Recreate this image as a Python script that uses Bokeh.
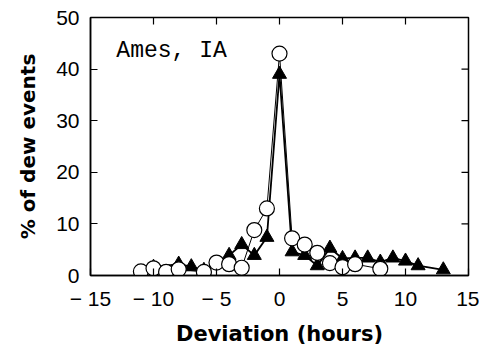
import math
from bokeh.plotting import figure
from bokeh.models import FixedTicker, Label, Range1d
from bokeh.embed import file_html
from bokeh.resources import INLINE

# Data
x_circles = [-11, -10, -9, -8, -6, -5, -4, -3, -2, -1, 0, 1, 2, 3, 4, 5, 6, 8]
y_circles = [0.8, 1.4, 0.7, 1.2, 0.7, 2.5, 2.2, 1.5, 8.8, 13.0, 43.0, 7.2, 6.0, 4.4, 2.4, 1.6, 2.2, 1.3]

x_triangles = [-10, -8, -7, -6, -5, -4, -3, -2, -1, 0, 1, 2, 3, 4, 5, 6, 7, 8, 9, 10, 11, 13]
y_triangles = [1.6, 2.2, 1.7, 1.0, 2.3, 3.9, 6.0, 3.9, 7.4, 39.0, 4.6, 3.9, 1.9, 5.3, 3.3, 3.4, 3.4, 2.6, 3.4, 2.8, 1.9, 1.1]

x_ticks = [-15, -10, -5, 0, 5, 10, 15]
x_tick_labels = ["\u2212 15", "\u2212 10", "\u2212 5", "0", "5", "10", "15"]
y_ticks = [0, 10, 20, 30, 40, 50]
y_tick_labels = ["0", "10", "20", "30", "40", "50"]

site_label = "Ames, IA"

x_min, x_max = x_ticks[0], x_ticks[-1]
y_min, y_max = y_ticks[0], y_ticks[-1]

p = figure(width=479, height=348, output_backend="svg", toolbar_location=None,
           x_range=Range1d(x_min, x_max), y_range=Range1d(y_min, y_max),
           min_border_left=90, min_border_right=11, min_border_top=17, min_border_bottom=71)
p.xgrid.visible = False
p.ygrid.visible = False
p.outline_line_color = "black"
p.outline_line_width = 1.5
p.background_fill_color = "white"
p.border_fill_color = "white"

tick_font = "Liberation Sans"
for ax, ticks, labels in ((p.xaxis[0], x_ticks, x_tick_labels), (p.yaxis[0], y_ticks, y_tick_labels)):
    ax.ticker = FixedTicker(ticks=ticks)
    ax.major_label_overrides = {t: l for t, l in zip(ticks, labels)}
    ax.major_tick_in = 7
    ax.major_tick_out = 0
    ax.minor_tick_in = 0
    ax.minor_tick_out = 0
    ax.axis_line_color = "black"
    ax.axis_line_width = 1.5
    ax.major_tick_line_width = 1.2
    ax.major_label_text_font = tick_font
    ax.major_label_text_font_size = "21px"
    ax.major_label_text_color = "black"
    ax.axis_label_text_font = "DejaVu Sans"
    ax.axis_label_text_font_style = "bold"
    ax.axis_label_text_color = "black"

p.xaxis.axis_label = "Deviation (hours)"
p.yaxis.axis_label = "% of dew events"
p.xaxis.axis_label_text_font_size = "21px"
p.yaxis.axis_label_text_font_size = "20px"
p.xaxis.major_label_standoff = 11
p.xaxis.axis_label_standoff = 9
p.yaxis.major_label_standoff = 11
p.yaxis.axis_label_standoff = 13
p.yaxis.major_label_orientation = "horizontal"

# mirrored inward ticks on top and right edges (drawn as short screen-length rays)
top_ticks = [t for t in x_ticks if x_min < t < x_max]
right_ticks = [t for t in y_ticks if y_min < t < y_max]
p.ray(x=top_ticks, y=[y_max] * len(top_ticks), length=7, length_units="screen",
      angle=-math.pi / 2, line_color="black", line_width=1.2)
p.ray(x=[x_max] * len(right_ticks), y=right_ticks, length=7, length_units="screen",
      angle=math.pi, line_color="black", line_width=1.2)

p.line(x_circles, y_circles, line_color="black", line_width=1)
p.line(x_triangles, y_triangles, line_color="black", line_width=1.8)
p.scatter(x_triangles, y_triangles, marker="triangle", size=14, fill_color="black", line_color="black")
p.scatter(x_circles, y_circles, marker="circle", size=15, fill_color="white", line_color="black", line_width=1.2)

p.add_layout(Label(x=-12.95, y=43.5, text=site_label, text_font="Liberation Mono",
                   text_font_size="23px", text_color="black", text_baseline="alphabetic"))

open("out.html", "w").write(file_html(p, INLINE))
